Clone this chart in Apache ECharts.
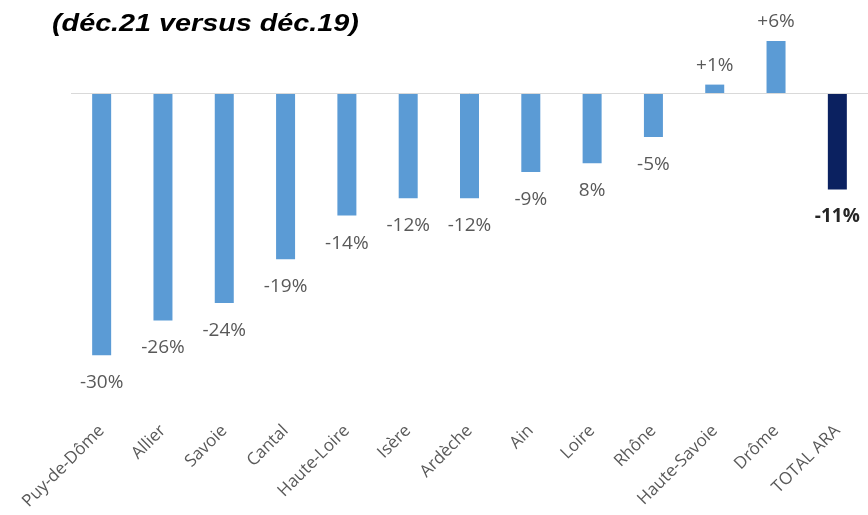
<!DOCTYPE html>
<html lang="fr">
<head>
  <meta charset="UTF-8">
  <title>déc.21 versus déc.19</title>
  <script src="https://cdn.jsdelivr.net/npm/echarts@6/dist/echarts.min.js"></script>
</head>
<body style="margin: 0;padding: 0;background:#fff;">
  <div id="main" style="width: 868px;height: 515px;"></div>
  <script>
    var departements = ['Puy-de-Dôme', 'Allier', 'Savoie', 'Cantal', 'Haute-Loire', 'Isère', 'Ardèche',
      'Ain', 'Loire', 'Rhône', 'Haute-Savoie', 'Drôme', 'TOTAL ARA'];
    var evolution = [-30, -26, -24, -19, -14, -12, -12, -9, -8, -5, 1, 6, -11];
    // étiquettes telles qu'affichées (dont "8%" pour la Loire)
    var etiquettes = ['-30%', '-26%', '-24%', '-19%', '-14%', '-12%', '-12%', '-9%', '8%', '-5%', '+1%', '+6%', '-11%'];

    var chart = echarts.init(document.getElementById('main'));

    var data = evolution.map(function (v, i) {
      var total = departements[i] === 'TOTAL ARA';
      return {
        value: v,
        itemStyle: { color: total ? '#0b2160' : '#5b9bd5' },
        label: {
          position: v < 0 ? 'bottom' : 'top',
          distance: v < 0 ? 18 : 10,
          fontWeight: total ? 'bold' : 'normal',
          color: total ? '#262626' : '#595959'
        }
      };
    });

    var option = {
      animation: false,
      graphic: [{
        type: 'text',
        left: 52,
        top: 13,
        scaleX: 1.25,
        style: {
          text: '(déc.21 versus déc.19)',
          fontFamily: 'Liberation Sans',
          fontStyle: 'italic',
          fontWeight: 'bold',
          fontSize: 23,
          fill: '#000'
        }
      }],
      grid: { left: 71, right: -5, top: 6, bottom: 116, containLabel: false },
      xAxis: {
        type: 'category',
        data: departements,
        axisLine: { show: false, onZero: false },
        axisTick: { show: false },
        axisLabel: {
          rotate: 45,
          margin: 29,
          interval: 0,
          fontFamily: 'Open Sans',
          fontSize: 17,
          color: '#595959'
        }
      },
      yAxis: {
        type: 'value',
        min: -35,
        max: 10,
        show: false,
        splitLine: { show: false }
      },
      series: [{
        type: 'bar',
        barWidth: 19,
        data: data,
        label: {
          show: true,
          fontFamily: 'Open Sans',
          fontSize: 19,
          formatter: function (p) { return etiquettes[p.dataIndex]; }
        },
        markLine: {
          silent: true,
          symbol: 'none',
          label: { show: false },
          lineStyle: { color: '#d9d9d9', width: 1, type: 'solid' },
          data: [{ yAxis: 0 }]
        }
      }]
    };

    chart.setOption(option);
  </script>
</body>
</html>
